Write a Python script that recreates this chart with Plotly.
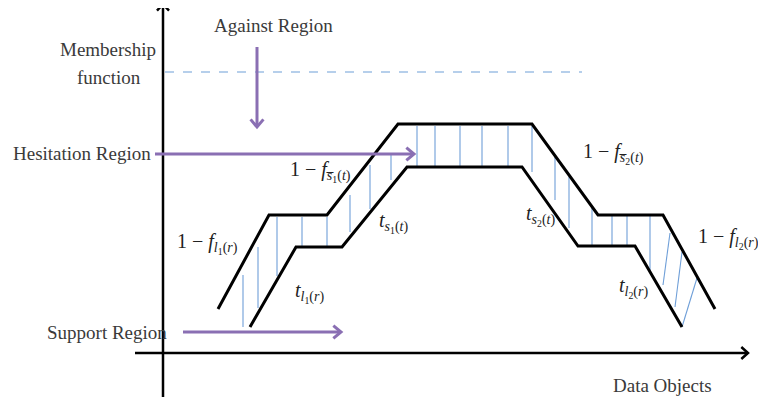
import math
import plotly.graph_objects as go

# ---- data (pixel-space diagram coordinates) ----
upper_x = [218, 269, 327, 398, 532, 598, 663, 715]
upper_y = [309, 215, 215, 124, 124, 215, 215, 309]
lower_x = [250, 296, 342, 407, 522, 578, 635, 682]
lower_y = [327, 247, 247, 167, 167, 246, 246, 327]

hatch_x0 = [243, 258, 277, 302, 327, 350, 370, 391, 417, 435, 460, 482, 508, 532, 555, 569, 592, 612, 627, 650, 670, 682, 697]
hatch_y0 = [275, 247, 217, 217, 217, 195, 165, 155, 126, 126, 126, 126, 126, 126, 157, 177, 208, 216, 216, 216, 233, 252, 278]
hatch_x1 = [243, 258, 277, 302, 327, 350, 370, 391, 417, 435, 460, 482, 508, 532, 555, 569, 592, 612, 627, 650, 663, 675, 682]
hatch_y1 = [327, 308, 276, 246, 246, 232, 209, 180, 167, 167, 167, 167, 167, 172, 200, 228, 246, 246, 246, 270, 285, 307, 327]

dash_x = [165, 582]
dash_y = [72, 72]

# arrows: start, end
axis_arrows = [((163, 397), (163, 4)), ((135, 353), (748, 353))]
purple_arrows = [((257, 47), (257, 127)), ((155, 154), (414, 154)), ((183, 332), (341, 332))]

labels = [
    ("Against Region", 273, 25),
    ("Membership", 108, 49),
    ("function", 109, 77),
    ("Hesitation Region", 82, 153),
    ("Support Region", 107, 332),
    ("Data Objects", 662, 385),
]
SB = "s\u0305"
math_labels = [
    ("1 − <i>f</i><sub><i>" + SB + "</i><sub>1</sub>(<i>t</i>)</sub>", 320, 171),
    ("<i>t</i><sub><i>s</i><sub>1</sub>(<i>t</i>)</sub>", 393, 222),
    ("1 − <i>f</i><sub><i>l</i><sub>1</sub>(<i>r</i>)</sub>", 207, 243),
    ("<i>t</i><sub><i>l</i><sub>1</sub>(<i>r</i>)</sub>", 309, 292),
    ("1 − <i>f</i><sub><i>" + SB + "</i><sub>2</sub>(<i>t</i>)</sub>", 613, 153),
    ("<i>t</i><sub><i>s</i><sub>2</sub>(<i>t</i>)</sub>", 540, 215),
    ("1 − <i>f</i><sub><i>l</i><sub>2</sub>(<i>r</i>)</sub>", 728, 238),
    ("<i>t</i><sub><i>l</i><sub>2</sub>(<i>r</i>)</sub>", 633, 287),
]

BLACK = "#000000"
PURPLE = "#8A6FB3"
BLUE = "#6F9FD8"
FONT = "Liberation Serif"
OFF = 8  # page body margin offset
W, H = 766, 405

fig = go.Figure()


def chevron(start, end, length, ang_deg):
    dx, dy = end[0] - start[0], end[1] - start[1]
    n = math.hypot(dx, dy)
    ux, uy = dx / n, dy / n
    pts = []
    for s in (1, -1):
        a = math.radians(ang_deg) * s
        bx = -(ux * math.cos(a) - uy * math.sin(a))
        by = -(ux * math.sin(a) + uy * math.cos(a))
        pts.append((end[0] + bx * length, end[1] + by * length))
    return [pts[0][0], end[0], pts[1][0]], [pts[0][1], end[1], pts[1][1]]


def add_line(xs, ys, color, width, dash=None):
    fig.add_trace(go.Scatter(x=xs, y=ys, mode="lines",
                             line=dict(color=color, width=width, dash=dash),
                             hoverinfo="skip", showlegend=False))


# dashed membership line
add_line(dash_x, dash_y, BLUE, 1.2, "dash")

# hatch lines
for x0, y0, x1, y1 in zip(hatch_x0, hatch_y0, hatch_x1, hatch_y1):
    add_line([x0, x1], [y0, y1], BLUE, 1.1)

# axes
for s, e in axis_arrows:
    add_line([s[0], e[0]], [s[1], e[1]], BLACK, 2.5)
    cx, cy = chevron(s, e, 9, 42)
    add_line(cx, cy, BLACK, 2.5)

# curves
add_line(upper_x, upper_y, BLACK, 3)
add_line(lower_x, lower_y, BLACK, 3)

# purple arrows
for s, e in purple_arrows:
    add_line([s[0], e[0]], [s[1], e[1]], PURPLE, 3)
    cx, cy = chevron(s, e, 10, 40)
    add_line(cx, cy, PURPLE, 3)

for t, x, y in labels:
    fig.add_annotation(x=x, y=y, xref="x", yref="y", text=t, showarrow=False,
                       font=dict(family=FONT, size=19, color="#3a3a3a"),
                       xanchor="center", yanchor="middle")
for t, x, y in math_labels:
    fig.add_annotation(x=x, y=y, xref="x", yref="y", text=t, showarrow=False,
                       font=dict(family=FONT, size=20, color="#222222"),
                       xanchor="center", yanchor="middle")

fig.update_layout(
    width=W - OFF, height=H - OFF,
    margin=dict(l=0, r=0, t=0, b=0),
    paper_bgcolor="white", plot_bgcolor="white",
    xaxis=dict(range=[OFF, W], visible=False, fixedrange=True),
    yaxis=dict(range=[H, OFF], visible=False, fixedrange=True),
    showlegend=False,
)

fig.write_html("out.html")
